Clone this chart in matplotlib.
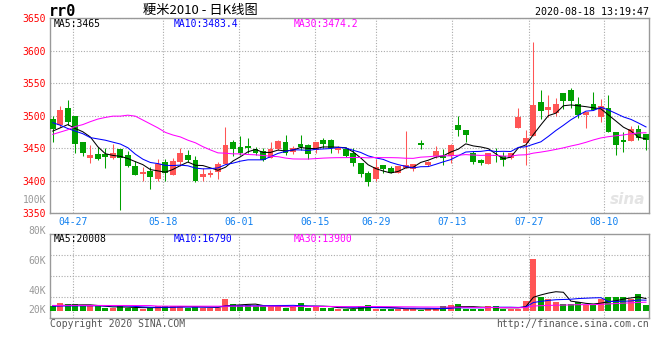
import pandas as pd
import matplotlib
matplotlib.use('Agg')
import matplotlib.pyplot as plt

# daily bars, 2020-04-22 .. 2020-08-18 (trading days only)
opens = [3494, 3486, 3511, 3499, 3459, 3435, 3441, 3441, 3434, 3448,
         3439, 3422, 3410, 3415, 3402, 3428, 3409, 3428, 3439, 3432,
         3405, 3408, 3413, 3426, 3459, 3451, 3453, 3448, 3445, 3435,
         3448, 3459, 3444, 3456, 3455, 3447, 3462, 3462, 3447, 3448,
         3442, 3427, 3412, 3403, 3424, 3419, 3412, 3419, 3418, 3457,
         3424, 3437, 3438, 3438, 3485, 3478, 3442, 3431, 3426, 3439,
         3438, 3435, 3481, 3457, 3468, 3521, 3508, 3504, 3535, 3540,
         3517, 3501, 3517, 3497, 3511, 3475, 3462, 3461, 3479, 3471]
highs = [3499, 3515, 3524, 3500, 3459, 3455, 3452, 3450, 3456, 3448,
         3445, 3430, 3421, 3421, 3433, 3433, 3435, 3450, 3447, 3437,
         3419, 3416, 3429, 3483, 3462, 3469, 3466, 3452, 3450, 3459,
         3462, 3470, 3453, 3470, 3456, 3460, 3465, 3464, 3453, 3452,
         3450, 3427, 3415, 3433, 3424, 3423, 3423, 3476, 3426, 3462,
         3430, 3453, 3448, 3456, 3499, 3478, 3446, 3433, 3443, 3450,
         3444, 3443, 3512, 3478, 3613, 3539, 3531, 3527, 3535, 3542,
         3529, 3506, 3536, 3526, 3531, 3475, 3475, 3484, 3486, 3471]
lows = [3460, 3483, 3486, 3443, 3437, 3427, 3432, 3419, 3433, 3354,
        3421, 3408, 3400, 3387, 3399, 3400, 3409, 3423, 3428, 3398,
        3400, 3405, 3403, 3426, 3437, 3440, 3443, 3440, 3430, 3434,
        3447, 3440, 3441, 3447, 3433, 3443, 3450, 3443, 3443, 3436,
        3422, 3406, 3391, 3399, 3411, 3411, 3412, 3419, 3414, 3448,
        3423, 3435, 3424, 3427, 3469, 3460, 3426, 3424, 3426, 3429,
        3423, 3433, 3481, 3424, 3468, 3494, 3498, 3500, 3510, 3511,
        3496, 3481, 3508, 3490, 3474, 3440, 3444, 3461, 3462, 3447]
closes = [3479, 3508, 3490, 3456, 3442, 3439, 3433, 3436, 3443, 3435,
          3422, 3409, 3413, 3405, 3425, 3412, 3430, 3443, 3432, 3400,
          3410, 3412, 3425, 3455, 3448, 3443, 3450, 3443, 3432, 3448,
          3461, 3443, 3450, 3452, 3441, 3459, 3456, 3450, 3450, 3437,
          3427, 3410, 3397, 3421, 3418, 3412, 3422, 3424, 3426, 3455,
          3429, 3445, 3435, 3455, 3477, 3470, 3429, 3427, 3442, 3437,
          3432, 3442, 3498, 3465, 3516, 3507, 3513, 3517, 3522, 3522,
          3501, 3506, 3508, 3514, 3475, 3454, 3459, 3479, 3466, 3462]
volumes = [7400, 12600, 10600, 10600, 7400, 7400, 7400, 5200, 5200, 7400,
           5200, 5200, 3600, 5200, 7400, 7400, 7400, 7400, 5200, 7400,
           5200, 5200, 5200, 18500, 10600, 9000, 9000, 7400, 7400, 7400,
           7400, 5200, 7400, 12600, 5200, 7400, 5200, 5200, 3600, 3600,
           3600, 7400, 9000, 3600, 3600, 3600, 3600, 3600, 3600, 2100,
           3600, 3600, 7400, 9000, 10600, 3600, 3600, 3600, 7400, 7400,
           3600, 3600, 3600, 15800, 81700, 22100, 18500, 14200, 11500, 11500,
           14200, 9000, 9000, 18500, 22100, 22100, 22100, 18500, 26400, 9000]

# moving average values before a full window exists
ma5_head = [3476, 3481, 3486, 3480]
ma10_head = [3489, 3485, 3480, 3476, 3472, 3466, 3464, 3462, 3459]
ma30_head = [3471, 3474.5, 3478, 3483, 3486, 3490.5, 3494.5, 3497, 3499, 3499,
             3500.5, 3499, 3493, 3487, 3481, 3474, 3470, 3467, 3462, 3458,
             3452, 3447, 3442.5, 3442, 3441, 3441, 3440, 3439.5, 3438.5]
vol_ma5_head = [8000, 8600, 9200, 9500]
vol_ma10_head = [7800, 7900, 8000, 8100, 8200, 8200, 8200, 8100, 8100]
vol_ma30_head = [8800, 8800, 8900, 8900, 8900, 8800, 8800, 8700, 8700, 8700,
                 8700, 8600, 8600, 8600, 7700, 7700, 7700, 7700, 7600, 7600,
                 7600, 7600, 7600, 7700, 7700, 7700, 7600, 7600, 7600]

tick_labels = ['04-27', '05-18', '06-01', '06-15', '06-29', '07-13', '07-27', '08-10']
tick_pos = [2.7, 14.7, 24.8, 34.9, 43.0, 53.2, 63.4, 73.4]
price_ticks = [3350, 3400, 3450, 3500, 3550, 3600, 3650]
vol_labels = ['100K', '80K', '60K', '40K', '20K']

title = '粳米2010 - 日K线图'
stamp = '2020-08-18 13:19:47'
ma_text = ['MA5:3465', 'MA10:3483.4', 'MA30:3474.2']
vol_ma_text = ['MA5:20008', 'MA10:16790', 'MA30:13900']

UP = '#FF5555'
DOWN = '#00A000'
GRID = '#aaaaaa'
MONO = 'DejaVu Sans Mono'
LW = 0.75


def moving(values, n, head):
    s = pd.Series(values, dtype=float).rolling(n).mean()
    s.iloc[:n - 1] = head
    return s


df = pd.DataFrame({'open': opens, 'high': highs, 'low': lows,
                   'close': closes, 'vol': volumes})
x = list(range(len(df)))
colors = [UP if c >= o else DOWN for o, c in zip(df['open'], df['close'])]

W, H = 660, 360


def fx(px):
    return px / W


def fy(py):
    return 1 - py / H


fig = plt.figure(figsize=(6.6, 3.6), dpi=100)
ax = fig.add_axes([fx(50.5), fy(213), (649 - 50.5) / W, 195 / H])
axv = fig.add_axes([fx(50.5), fy(318), (649 - 50.5) / W, 84 / H])

# candles
ax.vlines(x, df['low'], df['high'], colors=colors, linewidth=LW, zorder=2)
bodies = (df['close'] - df['open']).abs().clip(lower=0.9)
ax.bar(x, bodies, bottom=df[['open', 'close']].min(axis=1), width=0.78,
       color=colors, linewidth=0, zorder=3)
ax.plot(x, moving(closes, 5, ma5_head), color='black', lw=LW, zorder=4)
ax.plot(x, moving(closes, 10, ma10_head), color='#0000FF', lw=LW, zorder=4)
ax.plot(x, moving(closes, 30, ma30_head), color='#FF00FF', lw=LW, zorder=4)

ax.set_xlim(-0.3, 79.4)
ax.set_ylim(3350, 3650)
ax.set_yticks(price_ticks)
ax.set_yticklabels([str(t) for t in price_ticks], family=MONO, fontsize=7)
ax.set_xticks(tick_pos)
ax.set_xticklabels(tick_labels, family=MONO, fontsize=7)
ax.tick_params(axis='y', colors='#FF0000', length=0, pad=3)
ax.tick_params(axis='x', colors='#1080F0', length=0, pad=3)
ax.grid(True, color=GRID, linestyle=(0, (1, 1.5)), linewidth=0.8, zorder=0)

# volume
vol_scale = 1580  # lots per pixel
axv.bar(x, df['vol'], width=0.8, color=colors, linewidth=0, zorder=3)
axv.plot(x, moving(volumes, 5, vol_ma5_head), color='black', lw=LW, zorder=4)
axv.plot(x, moving(volumes, 10, vol_ma10_head), color='#0000FF', lw=LW, zorder=4)
axv.plot(x, moving(volumes, 30, vol_ma30_head), color='#FF00FF', lw=LW, zorder=4)
lo, hi = -7 * vol_scale, 77 * vol_scale
axv.set_xlim(-0.3, 79.4)
axv.set_ylim(lo, hi)
axv.set_xticks(tick_pos)
axv.set_xticklabels([])
axv.set_yticks([lo + k * (hi - lo) / 4 for k in (1, 2, 3)])
axv.set_yticklabels([])
axv.tick_params(length=0)
axv.grid(True, color=GRID, linestyle=(0, (1, 1.5)), linewidth=0.8, zorder=0)

for a in (ax, axv):
    for sp in a.spines.values():
        sp.set_color('#999999')
        sp.set_linewidth(1)

# texts
fig.text(fx(49), fy(12), 'rr0', family=MONO, weight='bold', fontsize=11,
         ha='left', va='center')
fig.text(fx(200), fy(10), title, family=['Noto Sans CJK SC', 'DejaVu Sans'],
         fontsize=9.5, ha='center', va='center')
fig.text(fx(649), fy(12), stamp, family=MONO, fontsize=7.2, ha='right', va='center')

ma_colors = ['black', '#0000FF', '#FF00FF']
for i, (t, c) in enumerate(zip(ma_text, ma_colors)):
    fig.text(fx(54 + 120 * i), fy(24), t, family=MONO, fontsize=7, color=c,
             ha='left', va='center')
for i, (t, c) in enumerate(zip(vol_ma_text, ma_colors)):
    fig.text(fx(54 + 120 * i), fy(239), t, family=MONO, fontsize=7, color=c,
             ha='left', va='center')

for t, py in zip(vol_labels, [200, 231, 261, 291, 310]):
    fig.text(fx(46), fy(py), t, family=MONO, fontsize=7, color='#999999',
             ha='right', va='center')

fig.text(fx(50), fy(324), 'Copyright 2020 SINA.COM', family=MONO, fontsize=7,
         color='#555555', ha='left', va='center')
fig.text(fx(649), fy(324), 'http://finance.sina.com.cn', family=MONO, fontsize=7,
         color='#555555', ha='right', va='center')
fig.text(fx(645), fy(199), 'sina', family='DejaVu Sans', fontsize=11,
         weight='bold', style='italic', color='#e4e4e4', ha='right', va='center')

fig.savefig('out.png', dpi=100)
